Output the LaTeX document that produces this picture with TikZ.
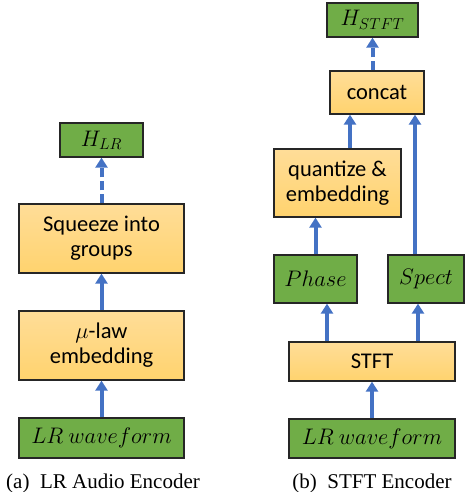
\RequirePackage{fix-cm}
\documentclass[tikz,border=0pt]{standalone}
\usepackage{fontspec}
\setmainfont{Carlito}
\newfontfamily\captionfont{Liberation Serif}
\usepackage{amsmath}
\usetikzlibrary{arrows.meta}

\definecolor{boxgreen}{RGB}{112,173,71}
\definecolor{boxtop}{RGB}{255,221,152}
\definecolor{boxbottom}{RGB}{255,211,110}
\definecolor{flowblue}{RGB}{68,114,196}
\definecolor{boxline}{RGB}{38,38,38}

\tikzset{
  databox/.style = {draw = boxline, line width = 1.3pt, fill = boxgreen, inner sep = 0pt, align = center},
  procbox/.style = {draw = boxline, line width = 1.3pt, top color = boxtop, bottom color = boxbottom, inner sep = 0pt, align = center},
  flow/.style = {-{Triangle[width = 12pt, length = 10pt]}, draw = flowblue, line width = 4pt},
  dashflow/.style = {flow, dash pattern = on 9pt off 4pt},
}

\begin{document}
\begin{tikzpicture}[x = 1pt, y = -1pt, font = \fontsize{22.5}{25}\selectfont]
    \useasboundingbox (0,0) rectangle (472,492);

    % (a) LR audio encoder
    \node[databox, minimum width = 83pt, minimum height = 34pt](hlr) at (101.5,140) {$H_{LR}$};
    \node[procbox, minimum width = 165pt, minimum height = 69pt](squeeze) at (101.5,238.5) {Squeeze into\\groups};
    \node[procbox, minimum width = 165pt, minimum height = 69pt](mulaw) at (101.5,345.5) {$\mu$-law\\embedding};
    \node[databox, minimum width = 165pt, minimum height = 40pt](wavea) at (101.5,438) {$LR\ waveform$};

    \draw [flow] (wavea.north) -- (mulaw.south);
    \draw [flow] (mulaw.north) -- (squeeze.south);
    \draw [dashflow] (squeeze.north) -- (hlr.south);

    % (b) STFT encoder
    \node[databox, minimum width = 91pt, minimum height = 34pt](hstft) at (372.5,20) {$H_{STFT}$};
    \node[procbox, minimum width = 94pt, minimum height = 43pt](concat) at (377,92.5) {concat};
    \node[procbox, minimum width = 127pt, minimum height = 68pt](quant) at (337.5,183) {quantize \&\\embedding};
    \node[databox, minimum width = 83pt, minimum height = 48pt](phase) at (315.5,279) {$Phase$};
    \node[databox, minimum width = 76pt, minimum height = 48pt](spect) at (426,279) {$Spect$};
    \node[procbox, minimum width = 166pt, minimum height = 39pt](stft) at (372,361.5) {STFT};
    \node[databox, minimum width = 166pt, minimum height = 39pt](waveb) at (372,438.5) {$LR\ waveform$};

    \draw [flow] (waveb.north) -- (stft.south);
    \draw [flow] ([xshift = -45pt]stft.north) -- ([xshift = -45pt]stft.north |- phase.south);
    \draw [flow] ([xshift = 46pt]stft.north) -- ([xshift = 46pt]stft.north |- spect.south);
    \draw [flow] (phase.north) -- (phase.north |- quant.south);
    \draw [flow] ([xshift = -11pt]spect.north) -- ([xshift = -11pt]spect.north |- concat.south);
    \draw [flow] ([xshift = 12.5pt]quant.north) -- ([xshift = 12.5pt]quant.north |- concat.south);
    \draw [dashflow] (concat.north -| hstft.south) -- (hstft.south);

    % captions
    \node[font = \captionfont\fontsize{21}{24}\selectfont](capa) at (103,483) {(a)\ \ LR Audio Encoder};
    \node[font = \captionfont\fontsize{21}{24}\selectfont](capb) at (372,483) {(b)\ \ STFT Encoder};
\end{tikzpicture}
\end{document}
